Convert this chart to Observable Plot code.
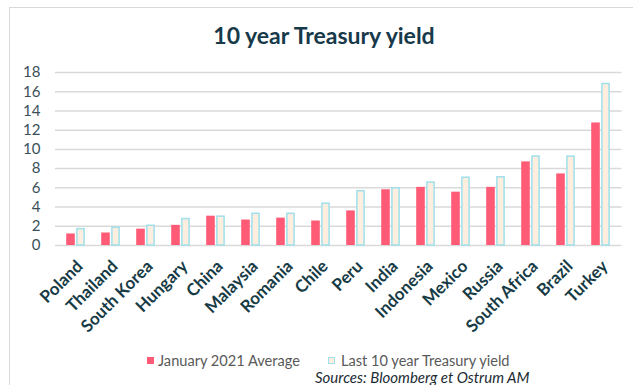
<!DOCTYPE html>
<html>
<head>
<meta charset="utf-8">
<script src="https://cdn.jsdelivr.net/npm/d3@7"></script>
<script src="https://cdn.jsdelivr.net/npm/@observablehq/plot@0.6"></script>
<style>
  html, body { margin: 0; padding: 0; background: #fff; }
  body { width: 633px; height: 385px; position: relative; overflow: hidden; font-family: Lato, "Open Sans", sans-serif; }
  #frame { position: absolute; left: 9px; top: 7px; width: 640px; height: 400px; border: 1px solid #d9d9d9; box-sizing: border-box; }
  #title { position: absolute; left: 0; width: 648px; top: 21px; text-align: center; font-weight: 700; font-size: 23px; color: #17394a; }
  #chart { position: absolute; left: 0; top: 0; }
  .leg { position: absolute; top: 353px; height: 15px; line-height: 15px; font-size: 14.6px; color: #595959; white-space: nowrap; }
  .sw { position: absolute; top: 357px; width: 7px; height: 7px; box-sizing: border-box; }
  #sources { position: absolute; left: 315px; top: 369px; height: 16px; line-height: 16px; font-size: 15px; font-style: italic; color: #1c2b33; white-space: nowrap; }
</style>
</head>
<body>
<div id="frame"></div>
<div id="title">10 year Treasury yield</div>
<div id="chart"></div>
<div class="sw" style="left:147px;background:#ff5b77;"></div>
<div class="leg" style="left:158px;">January 2021 Average</div>
<div class="sw" style="left:328px;background:#fdeee0;border:1px solid #9fe0ea;"></div>
<div class="leg" style="left:341px;">Last 10 year Treasury yield</div>
<div id="sources">Sources: Bloomberg et Ostrum AM</div>
<script>
const countries = ["Poland","Thailand","South Korea","Hungary","China","Malaysia","Romania","Chile","Peru","India","Indonesia","Mexico","Russia","South Africa","Brazil","Turkey"];
const january2021 = [1.2, 1.3, 1.7, 2.1, 3.05, 2.65, 2.85, 2.55, 3.6, 5.8, 6.05, 5.55, 6.05, 8.7, 7.45, 12.75];
const last10y = [1.7, 1.85, 2.05, 2.75, 3.0, 3.3, 3.3, 4.35, 5.65, 5.95, 6.55, 7.05, 7.1, 9.25, 9.25, 16.8];
const yTicks = [0, 2, 4, 6, 8, 10, 12, 14, 16, 18];

const jan = countries.map((c, i) => ({country: c, value: january2021[i]}));
const last = countries.map((c, i) => ({country: c, value: last10y[i]}));

const chart = Plot.plot({
  width: 633,
  height: 385,
  marginLeft: 55,
  marginRight: 11.5,
  marginTop: 72,
  marginBottom: 140,
  style: {fontFamily: "Lato, 'Open Sans', sans-serif", background: "transparent", overflow: "visible"},
  x: {domain: countries, padding: 0, label: null},
  y: {domain: [0, 18], label: null},
  marks: [
    Plot.ruleY(yTicks, {stroke: "#d9d9d9", strokeWidth: 1.5}),
    Plot.barY(jan, {x: "country", y: "value", fill: "#ff5b77", dx: -5, insetLeft: 13.2, insetRight: 13.2}),
    Plot.barY(last, {x: "country", y: "value", fill: "#fdeee0", stroke: "#9fe0ea", strokeWidth: 1.5, dx: 5, insetLeft: 13.9, insetRight: 13.9}),
    Plot.axisY({ticks: yTicks, tickSize: 0, tickPadding: 15, fontSize: 15, color: "#3a4f5a", label: null}),
    Plot.axisX({tickSize: 0, tickPadding: 18, dx: 4, tickRotate: -45, fontSize: 17, fontWeight: 700, color: "#173b45", label: null})
  ]
});
document.getElementById("chart").appendChild(chart);
</script>
</body>
</html>
